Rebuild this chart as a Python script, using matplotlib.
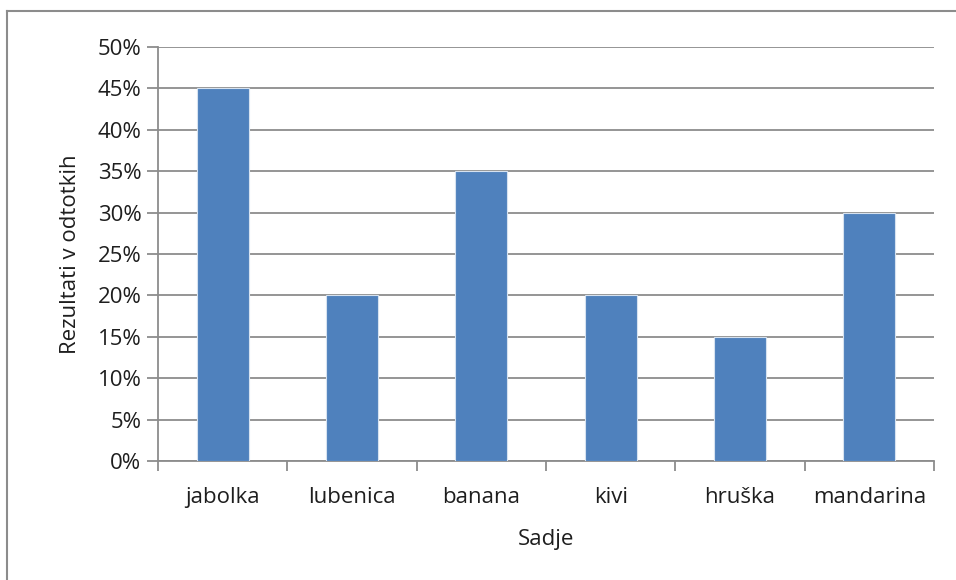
import matplotlib
matplotlib.use("Agg")
import matplotlib.pyplot as plt
from matplotlib.lines import Line2D
from matplotlib.ticker import FuncFormatter, MultipleLocator

categories = ["jabolka", "lubenica", "banana", "kivi", "hruška", "mandarina"]
values = [45, 20, 35, 20, 15, 30]
y_label = "Rezultati v odtotkih"
x_label = "Sadje"

plt.rcParams["font.family"] = ["Open Sans", "DejaVu Sans"]

W, H = 956, 580
FS = 16
TXT = "#1e1e1e"
fig = plt.figure(figsize=(W / 100, H / 100), dpi=100)
fig.patch.set_facecolor("white")

# chart-area frame: top and left edges
frame_col = "#8c8c8c"
fig.add_artist(Line2D([7 / W, 1.0], [1 - 11 / H, 1 - 11 / H], color=frame_col, lw=1.5, transform=fig.transFigure))
fig.add_artist(Line2D([7 / W, 7 / W], [0.0, 1 - 11 / H], color=frame_col, lw=1.5, transform=fig.transFigure))

left, right, top, bottom = 158, 934, 47, 461
ax = fig.add_axes([left / W, 1 - bottom / H, (right - left) / W, (bottom - top) / H])

x = range(len(categories))
ax.bar(x, values, width=0.40, color="#4F81BD", edgecolor="#d6e2f0", linewidth=0.8, zorder=3)

ax.set_xlim(-0.5, len(categories) - 0.5)
ax.set_ylim(0, 50)
ax.yaxis.set_major_locator(MultipleLocator(5))
ax.yaxis.set_major_formatter(FuncFormatter(lambda v, p: f"{int(round(v))}%"))
ax.grid(axis="y", color="#8c8c8c", lw=1.3, zorder=1)
ax.set_axisbelow(True)

# category labels centred, tick marks between categories
ax.set_xticks(list(x))
ax.set_xticklabels(categories)
ax.tick_params(axis="x", length=0, pad=19, labelsize=FS, labelcolor=TXT)
ax.set_xticks([i - 0.5 for i in range(len(categories) + 1)], minor=True)
ax.tick_params(axis="x", which="minor", length=7, width=1.3, color="#8c8c8c", direction="out")
ax.tick_params(axis="y", length=8, width=1.3, color="#8c8c8c", pad=4, labelsize=FS, labelcolor=TXT)

for side in ("top", "right"):
    ax.spines[side].set_visible(False)
for side in ("left", "bottom"):
    ax.spines[side].set_color("#8c8c8c")
    ax.spines[side].set_linewidth(1.3)

ax.set_ylabel(y_label, fontsize=FS, color=TXT, labelpad=12)
ax.set_xlabel(x_label, fontsize=FS, color=TXT, labelpad=15)

fig.savefig("out.png", dpi=100)
